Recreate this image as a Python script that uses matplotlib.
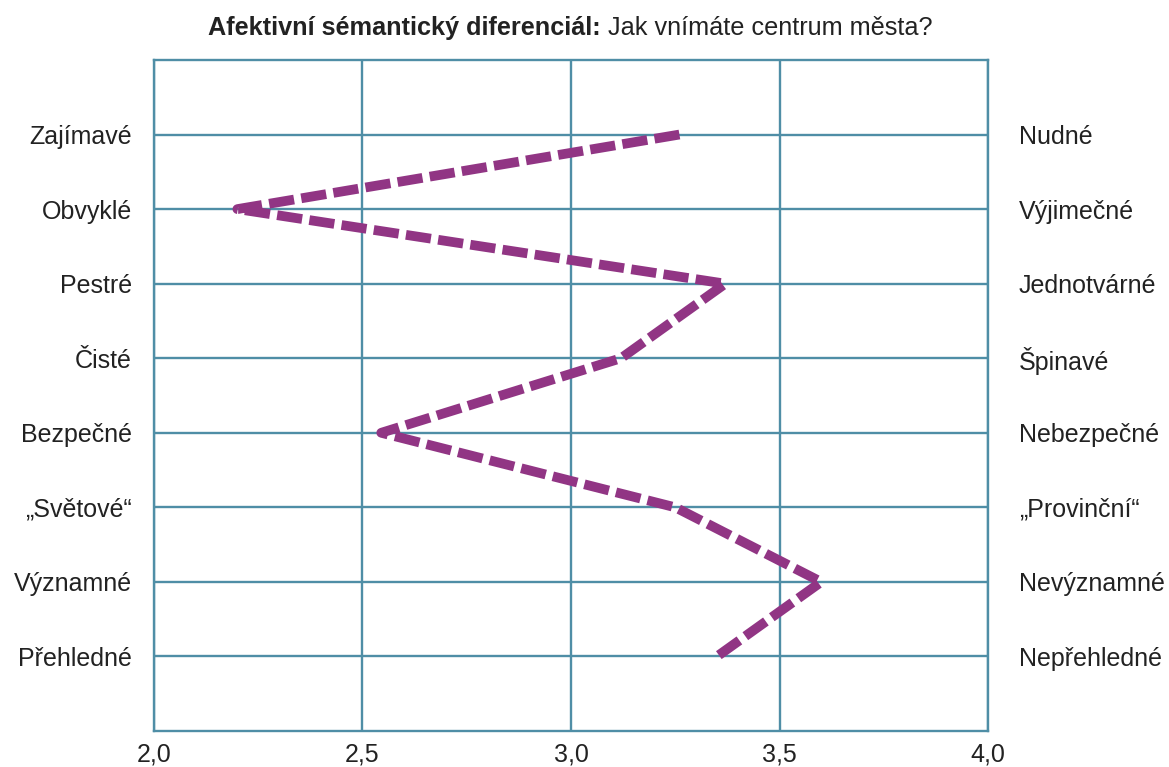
import matplotlib
matplotlib.use("Agg")
import matplotlib.pyplot as plt
from matplotlib.ticker import FuncFormatter

plt.rcParams["font.family"] = ["Liberation Sans", "DejaVu Sans"]

left_labels = ["Zajímavé", "Obvyklé", "Pestré", "Čisté", "Bezpečné",
               "„Světové“", "Významné", "Přehledné"]
right_labels = ["Nudné", "Výjimečné", "Jednotvárné", "Špinavé", "Nebezpečné",
                "„Provinční“", "Nevýznamné", "Nepřehledné"]
scores = [3.26, 2.20, 3.37, 3.12, 2.545, 3.25, 3.60, 3.35]
x_ticks = [2.0, 2.5, 3.0, 3.5, 4.0]

grid_color = "#4f8ea6"
line_color = "#913584"
text_color = "#222222"

fig = plt.figure(figsize=(11.69, 7.67), dpi=100)
ax = fig.add_axes([0.1317, 0.0469, 0.7135, 0.8749])

rows = list(range(1, len(left_labels) + 1))
ax.set_xlim(2.0, 4.0)
ax.set_ylim(9, 0)

for r in rows:
    ax.axhline(r, color=grid_color, lw=1.7, zorder=1)
for x in x_ticks:
    ax.axvline(x, color=grid_color, lw=1.7, zorder=1)

ax.plot(scores, rows, color=line_color, lw=7, linestyle=(0, (2.6, 0.75)),
        dash_joinstyle="round", dash_capstyle="butt", zorder=3)

for s in ax.spines.values():
    s.set_color(grid_color)
    s.set_linewidth(1.7)

ax.set_xticks(x_ticks)
ax.xaxis.set_major_formatter(FuncFormatter(lambda v, p: f"{v:.1f}".replace(".", ",")))
ax.tick_params(axis="x", length=0, pad=8, labelsize=18, labelcolor=text_color)
ax.set_yticks(rows)
ax.set_yticklabels(left_labels)
ax.tick_params(axis="y", length=0, pad=16, labelsize=18, labelcolor=text_color)

ax2 = ax.twinx()
ax2.set_ylim(9, 0)
ax2.set_yticks(rows)
ax2.set_yticklabels(right_labels)
ax2.tick_params(axis="y", length=0, pad=22, labelsize=18, labelcolor=text_color)
for s in ax2.spines.values():
    s.set_visible(False)

# title: bold part followed by regular part, centred as a whole
renderer = fig.canvas.get_renderer()
t1 = fig.text(0, 0.963, "Afektivní sémantický diferenciál:", fontsize=18.2,
              fontweight="bold", va="center", color=text_color)
t2 = fig.text(0, 0.963, " Jak vnímáte centrum města?", fontsize=18.2,
              va="center", color=text_color)
w1 = t1.get_window_extent(renderer).width / fig.bbox.width
w2 = t2.get_window_extent(renderer).width / fig.bbox.width
x0 = 0.4876 - (w1 + w2) / 2
t1.set_x(x0)
t2.set_x(x0 + w1)

fig.savefig("out.png", dpi=100)
